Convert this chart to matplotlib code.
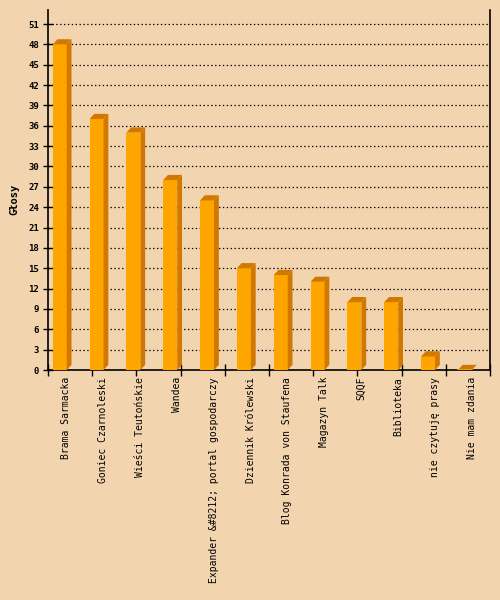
import numpy as np
import matplotlib
matplotlib.use("Agg")
import matplotlib.pyplot as plt
from matplotlib.patches import Polygon

categories = ["Brama Sarmacka", "Goniec Czarnoleski", "Wieści Teutońskie", "Wandea",
              "Expander &#8212; portal gospodarczy", "Dziennik Królewski",
              "Blog Konrada von Staufena", "Magazyn Talk", "SQQF", "Biblioteka",
              "nie czytuję prasy", "Nie mam zdania"]
votes = [48, 37, 35, 28, 25, 15, 14, 13, 10, 10, 2, 0]
yticks = list(range(0, 52, 3))

BG = "#F2D4AF"
FRONT = "#FFA500"
SIDE = "#D07800"
MONO = "DejaVu Sans Mono"

fig = plt.figure(figsize=(5, 6), dpi=100, facecolor=BG)
ax = fig.add_axes([48 / 500, 230 / 600, 442 / 500, 360 / 600])
ax.set_facecolor(BG)

n = len(categories)
ax.set_xlim(-0.5, n - 0.5)
ax.set_ylim(0, 53.07)

# bar geometry (in slot units / value units)
off = 0.128
w = 0.38
dx = 0.13
dy = 0.76

for i, v in enumerate(votes):
    xl = i - 0.5 + off
    xr = xl + w
    ax.bar(xl, v, width=w, align="edge", color=FRONT, zorder=3, linewidth=0)
    side = Polygon([(xr, 0), (xr + dx, dy), (xr + dx, v + dy), (xr, v)],
                   closed=True, facecolor=SIDE, edgecolor="none", zorder=3)
    top = Polygon([(xl, v), (xl + dx, v + dy), (xr + dx, v + dy), (xr, v)],
                  closed=True, facecolor=SIDE, edgecolor="none", zorder=3)
    ax.add_patch(side)
    ax.add_patch(top)
    if v == 0:
        ax.plot([xl, xr], [0, 0], color=FRONT, lw=1.2, zorder=4)

# grid
for t in yticks[1:]:
    ax.axhline(t, color="black", lw=0.9, linestyle=(0, (1.1, 2.0)), zorder=1)

ax.set_yticks(yticks)
ax.set_yticklabels([str(t) for t in yticks], fontfamily=MONO, fontsize=6.5, fontweight="bold")
ax.tick_params(axis="y", direction="inout", length=7, width=1, pad=3)

ax.set_xticks(range(n))
ax.set_xticklabels(categories, rotation=90, fontfamily=MONO, fontsize=7,
                   va="top", ha="center")
ax.tick_params(axis="x", which="major", length=0, pad=5)
ax.set_xticks(-0.5 + 1.2 * np.arange(11), minor=True)
ax.tick_params(axis="x", which="minor", direction="inout", length=8, width=1)

for s in ["left", "right", "bottom"]:
    ax.spines[s].set_linewidth(1.2)
    ax.spines[s].set_color("black")
ax.spines["top"].set_visible(False)

fig.text(14 / 500, 1 - 199 / 600, "Głosy", rotation=90, ha="center", va="center",
         fontfamily=MONO, fontsize=7.5, fontweight="bold")

fig.savefig("out.png", dpi=100, facecolor=BG)
